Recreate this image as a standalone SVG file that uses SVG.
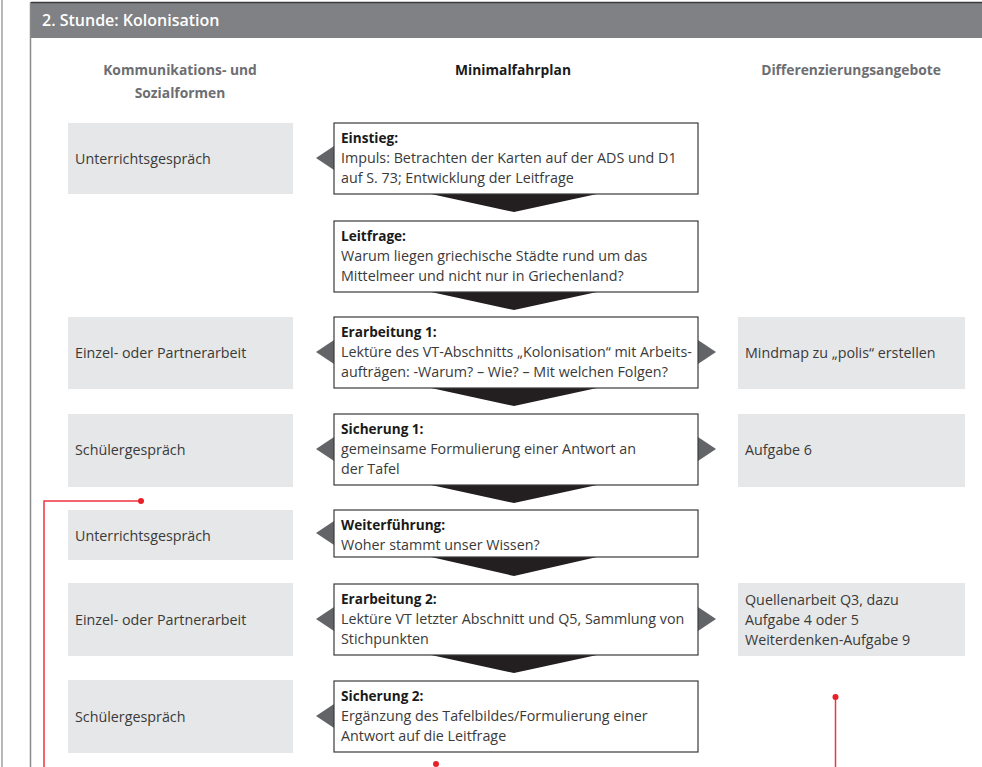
<svg xmlns="http://www.w3.org/2000/svg" width="982" height="767" viewBox="0 0 982 767">
<defs>
<style>
.hdr{font-family:"Open Sans","Liberation Sans",sans-serif;font-weight:700;font-size:13.8px;fill:#6d6e71;text-anchor:middle}
.t{font-family:"Open Sans","Liberation Sans",sans-serif;font-size:14.3px;fill:#3a3a3a}
.s{font-family:"Open Sans","Liberation Sans",sans-serif;font-size:14.3px;fill:#3a3a3a}
.b{font-family:"Open Sans","Liberation Sans",sans-serif;font-size:13.6px;font-weight:700;fill:#1a1a1a}
.grey{fill:#e6e7e8}
.box{fill:#fff;stroke:#3a3a3a;stroke-width:1.2}
.tri{fill:#636468}
.down{fill:#231f20}
.red{stroke:#ef3340;stroke-width:1.5;fill:none}
.dot{fill:#e8202a}
</style>
</defs>
<rect x="0" y="0" width="982" height="767" fill="#fff"/>
<line x1="2" y1="0" x2="2" y2="767" stroke="#b8b8b8" stroke-width="2"/>
<line x1="30.5" y1="2" x2="30.5" y2="767" stroke="#8a8a8a" stroke-width="1.5"/>
<g id="header">
<rect x="31" y="2" width="951" height="36" fill="#808184"/>
<line x1="31" y1="2.5" x2="982" y2="2.5" stroke="#3a3a3a" stroke-width="1.5"/>
<text x="42" y="26" font-family="'Open Sans','Liberation Sans',sans-serif" font-weight="600" font-size="16px" fill="#fff">2. Stunde: Kolonisation</text>
</g>
<g id="col-headers">
<text class="hdr" x="180" y="75">Kommunikations- und</text>
<text class="hdr" x="180" y="98">Sozialformen</text>
<text class="hdr" x="513" y="75" style="fill:#1a1a1a">Minimalfahrplan</text>
<text class="hdr" x="851" y="75">Differenzierungsangebote</text>
</g>
<g id="connectors">
<polygon class="down" points="431,194 597,194 514,212"/>
<polygon class="down" points="431,292 597,292 514,310"/>
<polygon class="down" points="431,388 597,388 514,406"/>
<polygon class="down" points="431,485 597,485 514,503"/>
<polygon class="down" points="431,557 597,557 514,576"/>
<polygon class="down" points="431,655 597,655 514,673"/>
<polygon class="tri" points="334,146 334,170 316,158"/>
<polygon class="tri" points="334,340 334,364 316,352"/>
<polygon class="tri" points="334,437 334,461 316,449"/>
<polygon class="tri" points="334,521 334,545 316,533"/>
<polygon class="tri" points="334,607 334,631 316,619"/>
<polygon class="tri" points="334,704 334,728 316,716"/>
<polygon class="tri" points="698,340 698,364 716,352"/>
<polygon class="tri" points="698,437 698,461 716,449"/>
<polygon class="tri" points="698,607 698,631 716,619"/>
</g>
<g id="soz-1"><rect class="grey" x="68" y="123" width="225" height="71"/><text class="s" x="75" y="164">Unterrichtsgespräch</text></g>
<g id="soz-2"><rect class="grey" x="68" y="317" width="225" height="72"/><text class="s" x="75" y="358">Einzel- oder Partnerarbeit</text></g>
<g id="soz-3"><rect class="grey" x="68" y="414" width="225" height="73"/><text class="s" x="75" y="455">Schülergespräch</text></g>
<g id="soz-4"><rect class="grey" x="68" y="510" width="225" height="50"/><text class="s" x="75" y="541">Unterrichtsgespräch</text></g>
<g id="soz-5"><rect class="grey" x="68" y="583" width="225" height="73"/><text class="s" x="75" y="625">Einzel- oder Partnerarbeit</text></g>
<g id="soz-6"><rect class="grey" x="68" y="680" width="225" height="73"/><text class="s" x="75" y="722">Schülergespräch</text></g>
<g id="einstieg"><rect class="box" x="334" y="123" width="364" height="71"/>
<text class="b" x="341" y="143">Einstieg:</text>
<text class="t" x="341" y="163">Impuls: Betrachten der Karten auf der ADS und D1</text>
<text class="t" x="341" y="183">auf S. 73; Entwicklung der Leitfrage</text></g>
<g id="leitfrage"><rect class="box" x="334" y="221" width="364" height="71"/>
<text class="b" x="341" y="241">Leitfrage:</text>
<text class="t" x="341" y="261">Warum liegen griechische Städte rund um das</text>
<text class="t" x="341" y="281">Mittelmeer und nicht nur in Griechenland?</text></g>
<g id="erarbeitung1"><rect class="box" x="334" y="317" width="364" height="71"/>
<text class="b" x="341" y="337">Erarbeitung 1:</text>
<text class="t" x="341" y="357">Lektüre des VT-Abschnitts „Kolonisation“ mit Arbeits-</text>
<text class="t" x="341" y="377">aufträgen: -Warum? – Wie? – Mit welchen Folgen?</text></g>
<g id="sicherung1"><rect class="box" x="334" y="414" width="364" height="71"/>
<text class="b" x="341" y="434">Sicherung 1:</text>
<text class="t" x="341" y="454">gemeinsame Formulierung einer Antwort an</text>
<text class="t" x="341" y="474">der Tafel</text></g>
<g id="weiterfuehrung"><rect class="box" x="334" y="510" width="364" height="47"/>
<text class="b" x="341" y="530">Weiterführung:</text>
<text class="t" x="341" y="550">Woher stammt unser Wissen?</text></g>
<g id="erarbeitung2"><rect class="box" x="334" y="584" width="364" height="71"/>
<text class="b" x="341" y="604">Erarbeitung 2:</text>
<text class="t" x="341" y="624">Lektüre VT letzter Abschnitt und Q5, Sammlung von</text>
<text class="t" x="341" y="644">Stichpunkten</text></g>
<g id="sicherung2"><rect class="box" x="334" y="681" width="364" height="71"/>
<text class="b" x="341" y="701">Sicherung 2:</text>
<text class="t" x="341" y="721">Ergänzung des Tafelbildes/Formulierung einer</text>
<text class="t" x="341" y="741">Antwort auf die Leitfrage</text></g>
<g id="diff-1"><rect class="grey" x="738" y="317" width="227" height="72"/><text class="s" x="745" y="358">Mindmap zu „polis“ erstellen</text></g>
<g id="diff-2"><rect class="grey" x="738" y="414" width="227" height="73"/><text class="s" x="745" y="455">Aufgabe 6</text></g>
<g id="diff-3"><rect class="grey" x="738" y="583" width="227" height="73"/>
<text class="s" x="745" y="605">Quellenarbeit Q3, dazu</text>
<text class="s" x="745" y="625">Aufgabe 4 oder 5</text>
<text class="s" x="745" y="645">Weiterdenken-Aufgabe 9</text></g>
<g id="annotations">
<polyline class="red" points="44,767 44,501 141,501"/>
<circle class="dot" cx="141" cy="501" r="3"/>
<line class="red" x1="835.5" y1="697" x2="835.5" y2="767"/>
<circle class="dot" cx="835.5" cy="697" r="3"/>
<circle class="dot" cx="436" cy="764" r="3"/>
</g>
</svg>
